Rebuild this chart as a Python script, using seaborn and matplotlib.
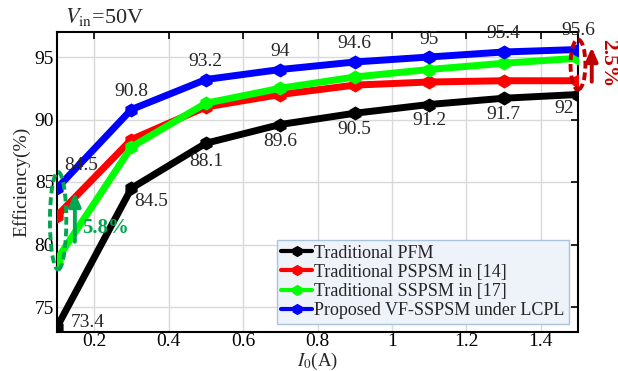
import matplotlib
matplotlib.use("Agg")
import matplotlib.pyplot as plt
import seaborn as sns
import pandas as pd
from matplotlib.patches import Ellipse

# ---- data ----
current = [0.1, 0.3, 0.5, 0.7, 0.9, 1.1, 1.3, 1.5]
pfm = [73.4, 84.5, 88.1, 89.6, 90.5, 91.2, 91.7, 92.0]
pspsm = [82.3, 88.4, 91.0, 92.0, 92.75, 93.0, 93.1, 93.1]
sspsm = [78.8, 87.8, 91.3, 92.5, 93.4, 94.0, 94.5, 94.9]
proposed = [84.5, 90.8, 93.2, 94.0, 94.6, 95.0, 95.4, 95.6]
series_names = ["Traditional PFM", "Traditional PSPSM in [14]",
                "Traditional SSPSM in [17]", "Proposed VF-SSPSM under LCPL"]
colors = ["#000000", "#FF0000", "#00FF00", "#0000FF"]
xticks = [0.2, 0.4, 0.6, 0.8, 1.0, 1.2, 1.4]
xticklabels = ["0.2", "0.4", "0.6", "0.8", "1", "1.2", "1.4"]
yticks = [75, 80, 85, 90, 95]

sns.set_style("white")
plt.rcParams['font.family'] = ['Liberation Serif', 'DejaVu Serif']
plt.rcParams['mathtext.fontset'] = 'stix'

fig = plt.figure(figsize=(6.18, 3.71), dpi=100)
ax = fig.add_axes([57/618, 1-332/371, (578-57)/618, (332-32)/371])

frames = []
for name, vals in zip(series_names, [pfm, pspsm, sspsm, proposed]):
    frames.append(pd.DataFrame({"I": current, "eff": vals, "series": name}))
df = pd.concat(frames, ignore_index=True)

for i, name in enumerate(series_names):
    sub = df[df.series == name]
    sns.lineplot(data=sub, x="I", y="eff", ax=ax, color=colors[i], lw=5,
                 marker="h", markersize=9, markeredgewidth=1,
                 markeredgecolor=colors[i], label=name, zorder=3 + i)

ax.set_xlim(0.1, 1.5)
ax.set_ylim(73, 97)
ax.set_xticks(xticks)
ax.set_xticklabels(xticklabels)
ax.set_yticks(yticks)
ax.grid(True, color="#d9d9d9", lw=1.0)
ax.set_axisbelow(True)
ax.tick_params(direction="in", length=5, width=1.2, top=True, right=True,
               labelsize=14, colors="black", pad=2)
ax.tick_params(axis="x", pad=1)
for s in ax.spines.values():
    s.set_color("black")
    s.set_linewidth(1.5)

ax.set_xlabel(r"$I_0$(A)", fontsize=13.5, labelpad=0)
ax.set_ylabel("Efficiency(%)", fontsize=14, labelpad=3)
fig.text(65/618, 1-17/371, r"$V_{\rm in}$=50V", fontsize=16, ha="left", va="center")

# value labels
blue_off = [(24, 23), (0, 18), (0, 18), (0, 18), (0, 18), (0, 18), (0, 19), (0, 19)]
for x, y, off in zip(current, proposed, blue_off):
    ax.annotate(f"{y:g}", (x, y), xytext=off, textcoords="offset pixels",
                ha="center", va="center", fontsize=14, annotation_clip=False,
                zorder=10)
black_off = [(31, 4), (20, -13), (0, -18), (0, -17), (0, -16), (0, -16), (0, -16), (-14, -14)]
for x, y, off in zip(current, pfm, black_off):
    ax.annotate(f"{y:g}", (x, y), xytext=off, textcoords="offset pixels",
                ha="center", va="center", fontsize=14, annotation_clip=False,
                zorder=10)

# green annotation
g = "#00A650"
ax.add_patch(Ellipse((0.103, 81.9), 0.044, 7.8, fill=False, ls=(0, (2, 1)),
                     lw=2.8, ec=g, clip_on=False, zorder=12))
ax.annotate("", xy=(0.148, 84.4), xytext=(0.148, 80.0),
            arrowprops=dict(arrowstyle="-|>,head_width=0.35,head_length=0.8",
                            color=g, lw=2.8), annotation_clip=False, zorder=12)
ax.text(0.168, 81.3, "5.8%", color=g, fontsize=15, fontweight="bold",
        ha="left", va="center", zorder=12)

# red annotation
r = "#C00000"
ax.add_patch(Ellipse((1.5, 94.4), 0.04, 4.0, fill=False, ls=(0, (2, 1)),
                     lw=2.8, ec=r, clip_on=False, zorder=12))
ax.annotate("", xy=(1.537, 96.0), xytext=(1.537, 92.8),
            arrowprops=dict(arrowstyle="-|>,head_width=0.35,head_length=0.8",
                            color=r, lw=2.8), annotation_clip=False, zorder=12)
ax.text(1.582, 94.5, "2.5%", color=r, fontsize=15.5, fontweight="bold",
        ha="center", va="center", rotation=-90, clip_on=False, zorder=12)

leg = ax.legend(loc="lower right", bbox_to_anchor=(0.982, 0.028), fontsize=13,
                frameon=True, fancybox=False, framealpha=1, handlelength=1.7,
                handletextpad=0.1, labelspacing=0.12, borderpad=0.25,
                borderaxespad=0.0)
leg.get_frame().set_facecolor("#eef2f9")
leg.get_frame().set_edgecolor("#a9c3df")
leg.get_frame().set_linewidth(1.0)
for line in leg.get_lines():
    line.set_linewidth(3)
    line.set_markersize(7)

fig.savefig("out.png", dpi=100)
